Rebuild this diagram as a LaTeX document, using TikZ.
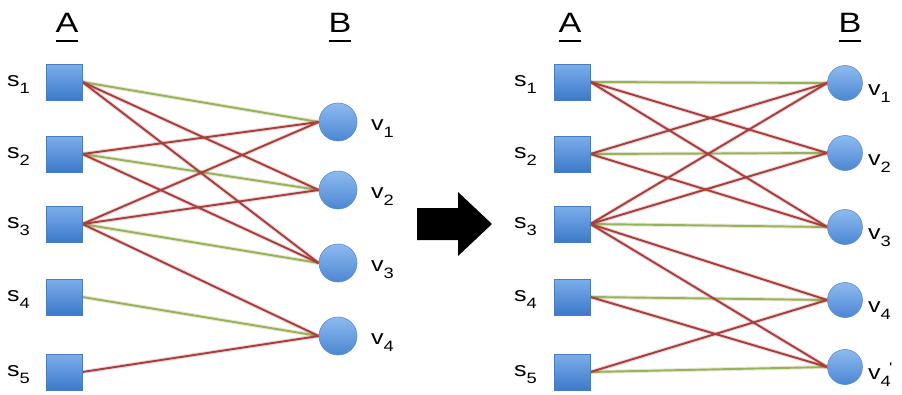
\documentclass[tikz,border=0pt]{standalone}
\usepackage{fontspec}
\setmainfont{Liberation Sans}
\usetikzlibrary{backgrounds}
\definecolor{edgered}{HTML}{A83D3B}
\definecolor{edgegreen}{HTML}{94B555}
\definecolor{sqtop}{HTML}{7BAEEA}
\definecolor{sqbot}{HTML}{3D79CA}
\definecolor{sqline}{HTML}{4A7CC0}
\definecolor{cirtop}{HTML}{8DBBF0}
\definecolor{cirbot}{HTML}{4C86D2}
\definecolor{cirline}{HTML}{5A8CCC}
% subscript index, set low and small like the slide labels
\newcommand\idx[1]{\raisebox{-7pt}{\fontsize{15}{17}\selectfont #1}}
\newcommand\wide[1]{\scalebox{1.22}[1]{#1}}
% underlined side heading
\newcommand\sidehead[1]{\setbox0\hbox{#1}\rlap{\rule[-10pt]{\wd0}{2pt}}\box0}
\begin{document}
\begin{tikzpicture}[x=1pt,y=-1pt,
  srcbox/.style={rectangle, minimum size=36pt, inner sep=0pt,
    top color=sqtop, bottom color=sqbot, draw=sqline, line width=0.7pt},
  dstball/.style={circle, minimum size=#1, inner sep=0pt,
    top color=cirtop, bottom color=cirbot, draw=cirline, line width=0.6pt},
  dstball/.default=38pt,
  slbl/.style={inner sep=0pt, anchor=base east, font=\fontsize{20.5}{24}\selectfont},
  vlbl/.style={inner sep=0pt, anchor=base west, font=\fontsize{20.5}{24}\selectfont},
  head/.style={inner sep=0pt, anchor=base, font=\fontsize{28}{32}\selectfont},
  redge/.style={draw=edgered, line width=1.9pt,
    preaction={draw=edgered, line width=4pt, opacity=.2}},
  gedge/.style={draw=edgegreen, line width=1.9pt,
    preaction={draw=edgered!50!edgegreen, line width=4pt, opacity=.2}},
]
\useasboundingbox (0,0) rectangle (902,394);

% ---------- left graph ----------
\node[head] (lA) at (67,32) {\wide{\sidehead{A}}};
\node[head] (lB) at (340,32) {\wide{\sidehead{B}}};

\foreach \i/\y in {1/82,2/154,3/224,4/297,5/372}{
  \node[srcbox] (ls\i) at (64,\y) {};
  \node[slbl] (ls\i lab) at (30,\y+4) {\wide{s\idx{\i}}};
}
\foreach \i/\y in {1/122,2/190,3/263,4/336}{
  \node[dstball] (lv\i) at (338,\y) {};
  \node[vlbl] (lv\i lab) at (371,\y+8) {\wide{v\idx{\i}}};
}

% ---------- arrow between the two graphs ----------
\fill[black] (417,208) -- (458,208) -- (458,192) -- (492,224) -- (458,256)
  -- (458,240) -- (417,240) -- cycle;

% ---------- right graph ----------
\node[head] (rA) at (570,32) {\wide{\sidehead{A}}};
\node[head] (rB) at (850,32) {\wide{\sidehead{B}}};

\foreach \i/\y in {1/82,2/154,3/224,4/297,5/372}{
  \node[srcbox] (rs\i) at (572,\y) {};
  \node[slbl] (rs\i lab) at (537,\y+4) {\wide{s\idx{\i}}};
}
\foreach \i/\y in {1/83,2/153,3/227,4/300,5/367}{
  \node[dstball=35pt] (rv\i) at (845,\y) {};
}
\foreach \i/\y in {1/83,2/153,3/227,4/300}{
  \node[vlbl] (rv\i lab) at (868,\y+12) {\wide{v\idx{\i}}};
}
\node[vlbl] (rv5lab) at (868,367+12)
  {\wide{v\idx{4}\hspace{-1.5pt}\raisebox{7pt}{\fontsize{14}{16}\selectfont\textquotesingle}}};

% ---------- edges ----------
\begin{scope}[on background layer]
  \fill[white] (0,0) rectangle (902,394);
  \foreach \a/\b in {1/1,2/2,3/3,4/4}
    \draw[gedge] (ls\a.east) -- (lv\b.west);
  \foreach \a/\b in {1/2,1/3,2/1,2/3,3/1,3/2,3/4,5/4}
    \draw[redge] (ls\a.east) -- (lv\b.west);

  \foreach \a/\b in {1/1,2/2,3/3,4/4,5/5}
    \draw[gedge] (rs\a.east) -- (rv\b.west);
  \foreach \a/\b in {1/2,1/3,2/1,2/3,3/1,3/2,3/4,3/5,4/5,5/4}
    \draw[redge] (rs\a.east) -- (rv\b.west);
\end{scope}
\end{tikzpicture}
\end{document}
